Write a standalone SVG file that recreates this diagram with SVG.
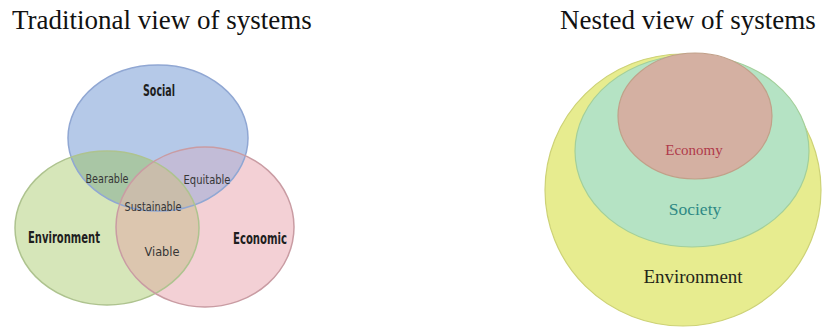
<svg xmlns="http://www.w3.org/2000/svg" width="822" height="328" viewBox="0 0 822 328">
<style>
.title{font-family:"Liberation Serif","Times New Roman",serif;font-size:27px;fill:#111}
.vl{font-family:"DejaVu Sans Condensed","DejaVu Sans",sans-serif;font-weight:bold;font-size:15px;fill:#1e1e1e;text-anchor:middle}
.vs{font-family:"DejaVu Sans Condensed","DejaVu Sans",sans-serif;font-size:13px;fill:#363636;text-anchor:middle}
.nl{font-family:"Liberation Serif","Times New Roman",serif;text-anchor:middle}
</style>
<defs>
<clipPath id="cS"><ellipse cx="158" cy="138" rx="90" ry="73"/></clipPath>
<clipPath id="cEc"><ellipse cx="205" cy="227" rx="89" ry="80"/></clipPath>
</defs>
<rect width="822" height="328" fill="#fff"/>
<text class="title" x="12" y="29">Traditional view of systems</text>
<text class="title" x="560" y="29">Nested view of systems</text>

<g id="venn-fills">
<ellipse cx="107" cy="228" rx="92" ry="77" fill="#d6e6b9"/>
<ellipse cx="205" cy="227" rx="89" ry="80" fill="#f3d0d5"/>
<ellipse cx="158" cy="138" rx="90" ry="73" fill="#b5c9e8"/>
<ellipse cx="107" cy="228" rx="92" ry="77" fill="#a9c6a5" clip-path="url(#cS)"/>
<ellipse cx="205" cy="227" rx="89" ry="80" fill="#c2bcd7" clip-path="url(#cS)"/>
<ellipse cx="107" cy="228" rx="92" ry="77" fill="#dcc6af" clip-path="url(#cEc)"/>
<g clip-path="url(#cS)"><ellipse cx="107" cy="228" rx="92" ry="77" fill="#c9bdab" clip-path="url(#cEc)"/></g>
</g>

<g id="social">
<ellipse cx="158" cy="138" rx="90" ry="73" fill="none" stroke="#90a7d3" stroke-width="1.5"/>
<text class="vl" x="159" y="96" textLength="32" lengthAdjust="spacingAndGlyphs">Social</text>
</g>
<g id="environment">
<ellipse cx="107" cy="228" rx="92" ry="77" fill="none" stroke="#aec38f" stroke-width="1.5"/>
<text class="vl" x="64" y="243" textLength="72" lengthAdjust="spacingAndGlyphs">Environment</text>
</g>
<g id="economic">
<ellipse cx="205" cy="227" rx="89" ry="80" fill="none" stroke="#c99ca3" stroke-width="1.5"/>
<text class="vl" x="260" y="244" textLength="54" lengthAdjust="spacingAndGlyphs">Economic</text>
</g>
<g id="overlap-labels">
<text class="vs" x="107" y="183" textLength="43" lengthAdjust="spacingAndGlyphs">Bearable</text>
<text class="vs" x="207" y="184" textLength="47" lengthAdjust="spacingAndGlyphs">Equitable</text>
<text class="vs" x="153" y="211" textLength="57" lengthAdjust="spacingAndGlyphs">Sustainable</text>
<text class="vs" x="162" y="256" textLength="35" lengthAdjust="spacingAndGlyphs">Viable</text>
</g>

<g id="nested-environment">
<ellipse cx="683" cy="190" rx="138" ry="136" fill="#e7ec8f" stroke="#cdd276" stroke-width="1.2"/>
<text class="nl" x="693" y="283" font-size="19" fill="#24261a">Environment</text>
</g>
<g id="nested-society">
<ellipse cx="692" cy="151" rx="117" ry="96" fill="#b5e3c4" stroke="#a3cf9a" stroke-width="1.2"/>
<text class="nl" x="695" y="215" font-size="17.5" fill="#2f8985">Society</text>
</g>
<g id="nested-economy">
<ellipse cx="695" cy="116" rx="77" ry="63" fill="#d4b0a2" stroke="#c1a089" stroke-width="1.2"/>
<text class="nl" x="694" y="155" font-size="15" fill="#b03a4a">Economy</text>
</g>
</svg>
